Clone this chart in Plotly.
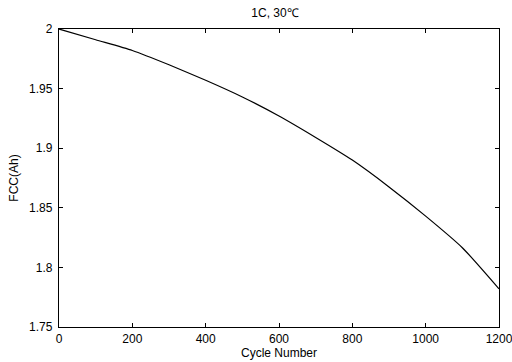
import plotly.graph_objects as go

cycles = [0, 100, 200, 300, 400, 500, 600, 700, 800, 900, 1000, 1100, 1200]
fcc = [2.000, 1.991, 1.982, 1.970, 1.957, 1.943, 1.927, 1.909, 1.890, 1.8675, 1.843, 1.8165, 1.782]

x_ticks = [0, 200, 400, 600, 800, 1000, 1200]
y_ticks = [1.75, 1.8, 1.85, 1.9, 1.95, 2.0]
y_tick_labels = ["1.75", "1.8", "1.85", "1.9", "1.95", "2"]

title_text = "1C, 30℃"
x_title = "Cycle Number"
y_title = "FCC(Ah)"

font_family = "Liberation Sans, Arial, sans-serif"

fig = go.Figure()
fig.add_trace(go.Scatter(x=cycles, y=fcc, mode="lines",
                         line=dict(color="black", width=1.2, shape="spline", smoothing=0.6),
                         showlegend=False))

axis_common = dict(showline=True, linecolor="black", linewidth=1.3, mirror="ticks",
                   ticks="inside", ticklen=4, tickcolor="black", tickwidth=1,
                   showgrid=False, zeroline=False, ticklabeloverflow="allow",
                   tickfont=dict(family=font_family, size=12, color="black"))

fig.update_layout(
    width=512, height=362,
    margin=dict(l=59, r=13, t=29, b=35, autoexpand=False),
    paper_bgcolor="white", plot_bgcolor="white",
    title=dict(text=title_text, x=275/512, xanchor="center", xref="container",
               y=1 - 13/362, yanchor="middle", yref="container",
               font=dict(family=font_family, size=12, color="black")),
    xaxis=dict(range=[0, 1200], tickvals=x_ticks,
               title=dict(text=x_title, standoff=3,
                          font=dict(family=font_family, size=12, color="black")),
               **axis_common),
    yaxis=dict(range=[1.75, 2.0], tickvals=y_ticks, ticktext=y_tick_labels,
               ticklabelstandoff=3,
               title=dict(text=y_title, standoff=7,
                          font=dict(family=font_family, size=12, color="black")),
               **axis_common),
)

fig.write_html("out.html")
